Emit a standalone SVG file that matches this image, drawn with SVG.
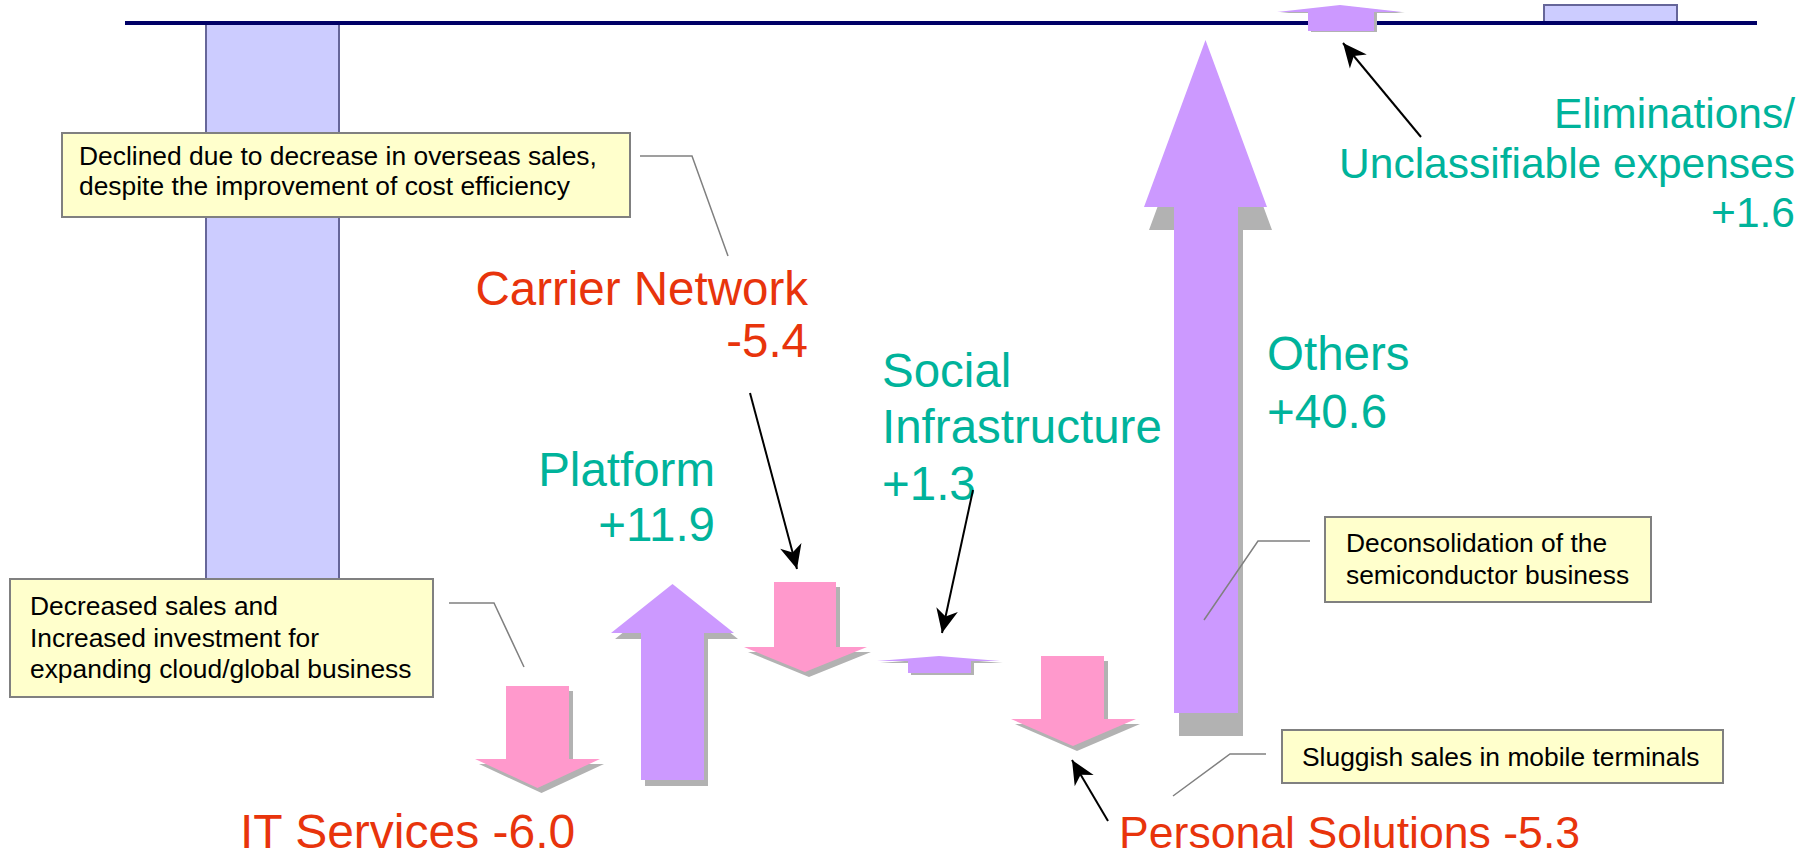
<svg xmlns="http://www.w3.org/2000/svg" width="1811" height="856" viewBox="0 0 1811 856">
  <style>
    .lbl { font-family: "Liberation Sans", Arial, sans-serif; }
    .big { font-size: 47.5px; }
    .mid { font-size: 42.5px; }
    .red { fill: #e8340c; }
    .teal { fill: #00b39b; }
    .note { font-family: "Liberation Sans", Arial, sans-serif; font-size: 26.4px; fill: #000; }
    .box { fill: #ffffcc; stroke: #808080; stroke-width: 2; }
    .bar { fill: #ccccff; stroke: #666699; stroke-width: 2; }
    .up { fill: #cc99ff; }
    .down { fill: #ff99cc; }
    .shadow { fill: #b2b2b2; }
    .leader { fill: none; stroke: #808080; stroke-width: 1.5; }
    .pointer { fill: none; stroke: #000; stroke-width: 2; marker-end: url(#stealth); }
  </style>
  <defs>
    <marker id="stealth" viewBox="-26 -13 28 26" refX="0" refY="0" markerWidth="28" markerHeight="26" markerUnits="userSpaceOnUse" orient="auto">
      <path d="M0,0 L-24,-11 L-17,0 L-24,11 Z" fill="#000"/>
    </marker>
  </defs>

  <rect width="1811" height="856" fill="#fff"/>

  <!-- start and end totals -->
  <g id="bar-start">
    <rect class="bar" x="206" y="23" width="133" height="556"/>
  </g>
  <g id="bar-end">
    <rect class="bar" x="1544" y="5" width="133" height="18"/>
  </g>

  <!-- zero line -->
  <line x1="125" y1="23" x2="1757" y2="23" stroke="#000066" stroke-width="4"/>

  <!-- IT Services -->
  <g id="it-services">
    <polygon class="shadow" transform="translate(4,5)" points="506,686 569,686 569,759 600,759 537.5,788 475,759 506,759"/>
    <polygon class="down" points="506,686 569,686 569,759 600,759 537.5,788 475,759 506,759"/>
    <text class="lbl red" font-size="48" x="240" y="848">IT Services -6.0</text>
  </g>

  <!-- Platform -->
  <g id="platform">
    <polygon class="shadow" transform="translate(4,6)" points="672.5,584 734,633 704,633 704,780 641,780 641,633 611,633"/>
    <polygon class="up" points="672.5,584 734,633 704,633 704,780 641,780 641,633 611,633"/>
    <text class="lbl big teal" text-anchor="end" x="715" y="486">Platform</text>
    <text class="lbl big teal" text-anchor="end" x="715" y="541">+11.9</text>
  </g>

  <!-- Carrier Network -->
  <g id="carrier-network">
    <polygon class="shadow" transform="translate(4,5)" points="774,582 836,582 836,647 867,647 805,672 744,647 774,647"/>
    <polygon class="down" points="774,582 836,582 836,647 867,647 805,672 744,647 774,647"/>
    <text class="lbl big red" text-anchor="end" x="808" y="305">Carrier Network</text>
    <text class="lbl big red" text-anchor="end" x="808" y="357">-5.4</text>
  </g>

  <!-- Social Infrastructure -->
  <g id="social-infrastructure">
    <polygon class="shadow" transform="translate(3,2)" points="939,656 1000,661 971,661 971,673 908,673 908,661 877,661"/>
    <polygon class="up" points="939,656 1000,661 971,661 971,673 908,673 908,661 877,661"/>
    <text class="lbl big teal" x="882" y="387">Social</text>
    <text class="lbl big teal" x="882" y="443">Infrastructure</text>
    <text class="lbl big teal" x="882" y="500">+1.3</text>
  </g>

  <!-- Personal Solutions -->
  <g id="personal-solutions">
    <polygon class="shadow" transform="translate(4,5)" points="1041,656 1104,656 1104,719 1136,719 1073,746 1011,719 1041,719"/>
    <polygon class="down" points="1041,656 1104,656 1104,719 1136,719 1073,746 1011,719 1041,719"/>
    <text class="lbl red" font-size="44.6" x="1119" y="848">Personal Solutions -5.3</text>
  </g>

  <!-- Others -->
  <g id="others">
    <polygon class="shadow" transform="translate(5,23)" points="1205.5,40 1267,207 1238,207 1238,713 1174,713 1174,207 1144,207"/>
    <polygon class="up" points="1205.5,40 1267,207 1238,207 1238,713 1174,713 1174,207 1144,207"/>
    <text class="lbl big teal" x="1267" y="370">Others</text>
    <text class="lbl big teal" x="1267" y="428">+40.6</text>
  </g>

  <!-- Eliminations / Unclassifiable expenses -->
  <g id="eliminations">
    <polygon class="shadow" transform="translate(3,1)" points="1340,5 1402,12 1374,12 1374,31 1308,31 1308,12 1277,12"/>
    <polygon class="up" points="1340,5 1402,12 1374,12 1374,31 1308,31 1308,12 1277,12"/>
    <text class="lbl mid teal" text-anchor="end" x="1795" y="128">Eliminations/</text>
    <text class="lbl mid teal" text-anchor="end" x="1795" y="178">Unclassifiable expenses</text>
    <text class="lbl mid teal" text-anchor="end" x="1795" y="227">+1.6</text>
  </g>

  <!-- callouts -->
  <g id="note-carrier">
    <rect class="box" x="62" y="133" width="568" height="84"/>
    <text class="note" font-size="24.8" x="79" y="165">Declined due to decrease in overseas sales,</text>
    <text class="note" font-size="24.8" x="79" y="195">despite the improvement of cost efficiency</text>
  </g>
  <g id="note-it">
    <rect class="box" x="10" y="579" width="423" height="118"/>
    <text class="note" font-size="26.2" x="30" y="615">Decreased sales and</text>
    <text class="note" font-size="26.2" x="30" y="647">Increased investment for</text>
    <text class="note" font-size="26.2" x="30" y="678">expanding cloud/global business</text>
  </g>
  <g id="note-others">
    <rect class="box" x="1325" y="517" width="326" height="85"/>
    <text class="note" font-size="26.6" x="1346" y="552">Deconsolidation of the</text>
    <text class="note" font-size="26.6" x="1346" y="584">semiconductor business</text>
  </g>
  <g id="note-personal">
    <rect class="box" x="1282" y="730" width="441" height="53"/>
    <text class="note" font-size="27" x="1302" y="766">Sluggish sales in mobile terminals</text>
  </g>

  <!-- connectors -->
  <g id="connectors">
    <polyline class="leader" points="640,156 692,156 728,256"/>
    <polyline class="leader" points="449,603 494,603 524,667"/>
    <polyline class="leader" points="1310,541 1258,541 1204,620"/>
    <polyline class="leader" points="1266,754 1230,754 1173,796"/>
    <line class="pointer" x1="750" y1="393" x2="797" y2="569"/>
    <line class="pointer" x1="973" y1="490" x2="942" y2="633"/>
    <line class="pointer" x1="1108" y1="821" x2="1072" y2="760"/>
    <line class="pointer" x1="1421" y1="137" x2="1343" y2="43"/>
  </g>
</svg>
